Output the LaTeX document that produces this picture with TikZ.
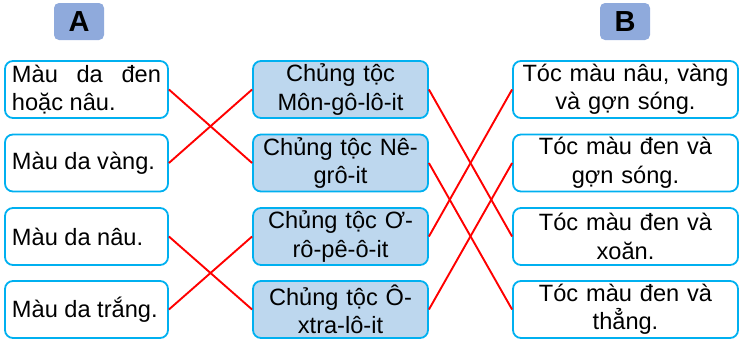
\documentclass[tikz,border=0pt]{standalone}
\usepackage{fontspec}
\setmainfont{Liberation Sans}
\definecolor{bord}{HTML}{00B0F0}
\definecolor{midfill}{HTML}{BDD7EE}
\definecolor{headfill}{HTML}{8FAADC}
\definecolor{linkred}{HTML}{FF0000}
\begin{document}
\begin{tikzpicture}[x=1pt,y=-1pt,
  box/.style={draw=bord,line width=1.8pt,rounded corners=8pt,minimum height=57pt,inner sep=0pt,
    font=\fontsize{23.6}{28.5}\selectfont},
  leftbox/.style={box,minimum width=163pt,text width=149pt,align=justify},
  midbox/.style={box,fill=midfill,minimum width=175pt,text width=170pt,align=center},
  rightbox/.style={box,minimum width=225pt,text width=215pt,align=center},
  head/.style={fill=headfill,rounded corners=5pt,minimum width=50pt,minimum height=37pt,inner sep=0pt,
    font=\fontsize{29}{30}\selectfont\bfseries},
  link/.style={draw=linkred,line width=1.9pt}]
\useasboundingbox (0,0) rectangle (747,351);
\node[head] (hA) at (79,21.5) {A};
\node[head] (hB) at (625,21.5) {B};
\node[leftbox] (l1) at (86.5,89.5) {Màu da đen hoặc nâu.};
\node[leftbox] (l2) at (86.5,163) {Màu da vàng.};
\node[leftbox] (l3) at (86.5,236.5) {Màu da nâu.};
\node[leftbox] (l4) at (86.5,309.5) {Màu da trắng.};
\node[midbox] (m1) at (340.5,89.5) {Chủng tộc\\Môn-gô-lô-it};
\node[midbox] (m2) at (340.5,163) {Chủng tộc Nê-\\grô-it};
\node[midbox] (m3) at (340.5,236.5) {Chủng tộc Ơ-\\rô-pê-ô-it};
\node[midbox] (m4) at (340.5,309.5) {Chủng tộc Ô-\\xtra-lô-it};
\node[rightbox] (r1) at (625.5,89.5) {Tóc màu nâu, vàng\\và gợn sóng.};
\node[rightbox] (r2) at (625.5,163) {Tóc màu đen và\\gợn sóng.};
\node[rightbox] (r3) at (625.5,236.5) {Tóc màu đen và\\xoăn.};
\node[rightbox] (r4) at (625.5,309.5) {Tóc màu đen và\\thẳng.};
\draw[link] (l1.east) -- (m2.west);
\draw[link] (l2.east) -- (m1.west);
\draw[link] (l3.east) -- (m4.west);
\draw[link] (l4.east) -- (m3.west);
\draw[link] (m1.east) -- (r3.west);
\draw[link] (m2.east) -- (r4.west);
\draw[link] (m3.east) -- (r1.west);
\draw[link] (m4.east) -- (r2.west);
\end{tikzpicture}
\end{document}
